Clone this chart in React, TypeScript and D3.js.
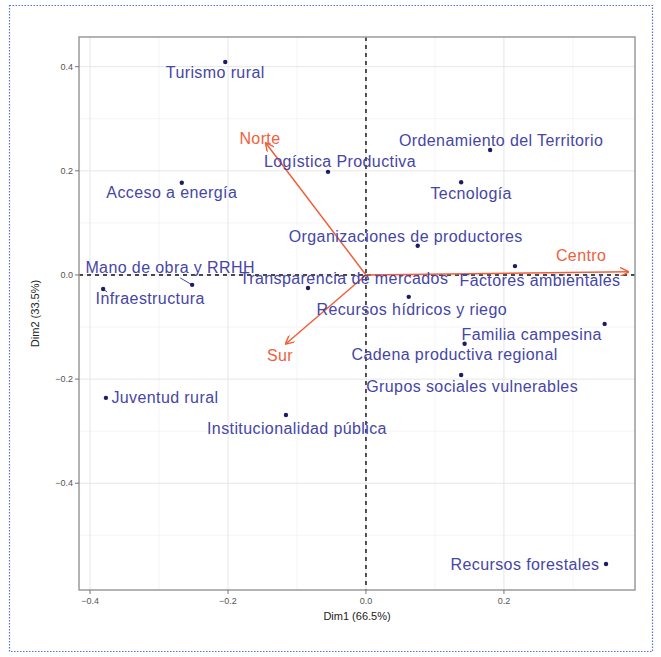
import React from 'react';
import * as d3 from 'd3';

// individuals (variables) on the biplot
const names = [
  'Turismo rural', 'Ordenamiento del Territorio', 'Logística Productiva', 'Acceso a energía',
  'Tecnología', 'Organizaciones de productores', 'Factores ambientales', 'Transparencia de mercados',
  'Mano de obra y RRHH', 'Infraestructura', 'Recursos hídricos y riego', 'Familia campesina',
  'Cadena productiva regional', 'Grupos sociales vulnerables', 'Juventud rural',
  'Institucionalidad pública', 'Recursos forestales'
];
const dim1 = [-0.204, 0.180, -0.055, -0.267, 0.138, 0.075, 0.216, -0.084, -0.252, -0.381, 0.062, 0.346, 0.143, 0.138, -0.377, -0.116, 0.348];
const dim2 = [0.409, 0.240, 0.198, 0.177, 0.178, 0.056, 0.017, -0.025, -0.019, -0.027, -0.042, -0.094, -0.132, -0.192, -0.236, -0.269, -0.555];

// supplementary arrows
const arrowNames = ['Norte', 'Centro', 'Sur'];
const arrowX = [-0.145, 0.380, -0.116];
const arrowY = [0.253, 0.006, -0.132];

const xTicks = [-0.4, -0.2, 0.0, 0.2];
const yTicks = [-0.4, -0.2, 0.0, 0.2, 0.4];
const xMinor = [-0.3, -0.1, 0.1, 0.3];
const yMinor = [-0.5, -0.3, -0.1, 0.1, 0.3];

// label offsets in pixels (repel-like placement)
const labelOffset: [number, number][] = [
  [-10, 10], [11, -10], [12, -10], [-10, 10], [10, 11], [-12, -9], [25, 14], [36, -10],
  [-22, -17], [47, 9], [3, 13], [-73, 10], [-10, 11], [11, 11], [59, 0], [11, 13], [-81, 0]
];
const arrowOffset: [number, number][] = [[-6, -5], [-47, -16], [-6, 12]];

const W = 661, H = 657;
const margin = { left: 79, right: 26, top: 37, bottom: 67 };

export default function App() {
  const x = d3.scaleLinear().domain([-0.416, 0.390]).range([margin.left, W - margin.right]);
  const y = d3.scaleLinear().domain([0.457, -0.605]).range([margin.top, H - margin.bottom]);
  const [x0, x1] = x.range();
  const [y0, y1] = y.range();
  const font = '"Liberation Sans", Arial, Helvetica, sans-serif';
  const txtCol = '#4646a6';
  const ptCol = '#1c1c66';
  const arCol = '#f0603c';
  const fmt = d3.format('.1f');
  const lblSize = 16;
  const lblSpacing = 0.4;

  return (
    <div style={{ position: 'absolute', left: 0, top: 0 }}>
      <svg width={W} height={H} style={{ display: 'block', fontFamily: font }}>
        <defs>
          <marker id="ah" viewBox="0 0 10 10" refX="9" refY="5" markerWidth="6" markerHeight="6" orient="auto-start-reverse">
            <path d="M0,0 L10,5 L0,10" fill="none" stroke={arCol} strokeWidth="1.6" />
          </marker>
        </defs>
        <rect x={0} y={0} width={W} height={H} fill="#fff" />
        <rect x={9.5} y={5.5} width={643} height={646} fill="none" stroke="#5b6fd0" strokeWidth={1.2} strokeDasharray="1.5 1.5" />

        {/* grid */}
        {xMinor.map(v => <line key={'xm' + v} x1={x(v)} x2={x(v)} y1={y0} y2={y1} stroke="#f2f2f2" strokeWidth={0.8} />)}
        {yMinor.map(v => <line key={'ym' + v} x1={x0} x2={x1} y1={y(v)} y2={y(v)} stroke="#f2f2f2" strokeWidth={0.8} />)}
        {xTicks.map(v => <line key={'xg' + v} x1={x(v)} x2={x(v)} y1={y0} y2={y1} stroke="#e6e6e6" strokeWidth={1} />)}
        {yTicks.map(v => <line key={'yg' + v} x1={x0} x2={x1} y1={y(v)} y2={y(v)} stroke="#e6e6e6" strokeWidth={1} />)}

        {/* zero lines */}
        <line x1={x(0)} x2={x(0)} y1={y0} y2={y1} stroke="#111" strokeWidth={1.4} strokeDasharray="4 4" />
        <line x1={x0} x2={x1} y1={y(0)} y2={y(0)} stroke="#111" strokeWidth={1.4} strokeDasharray="4 4" />

        {/* panel border */}
        <rect x={x0} y={y0} width={x1 - x0} height={y1 - y0} fill="none" stroke="#9a9a9a" strokeWidth={1.5} />

        {/* axes ticks */}
        {xTicks.map(v => (
          <g key={'xt' + v}>
            <line x1={x(v)} x2={x(v)} y1={y1} y2={y1 + 4} stroke="#777" />
            <text x={x(v)} y={y1 + 14} textAnchor="middle" fontSize={9} fill="#555">{fmt(v)}</text>
          </g>
        ))}
        {yTicks.map(v => (
          <g key={'yt' + v}>
            <line x1={x0 - 4} x2={x0} y1={y(v)} y2={y(v)} stroke="#777" />
            <text x={x0 - 6} y={y(v)} dy="0.35em" textAnchor="end" fontSize={9} fill="#555">{fmt(v)}</text>
          </g>
        ))}
        <text x={(x0 + x1) / 2} y={y1 + 30} textAnchor="middle" fontSize={11} fill="#222">Dim1 (66.5%)</text>
        <text transform={`translate(${39},${(y0 + y1) / 2}) rotate(-90)`} textAnchor="middle" fontSize={11} fill="#222">Dim2 (33.5%)</text>

        {/* leader lines */}
        <line x1={x(dim1[8]) - 12} y1={y(dim2[8]) - 7} x2={x(dim1[8])} y2={y(dim2[8])} stroke={txtCol} strokeWidth={1} />
        <line x1={x(dim1[9])} y1={y(dim2[9])} x2={x(dim1[9]) + 4} y2={y(dim2[9]) + 3} stroke={txtCol} strokeWidth={1} />

        {/* arrows */}
        {arrowNames.map((n, i) => (
          <g key={n}>
            <line x1={x(0)} y1={y(0)} x2={x(arrowX[i])} y2={y(arrowY[i])} stroke={arCol} strokeWidth={1.5} markerEnd="url(#ah)" />
            <text x={x(arrowX[i]) + arrowOffset[i][0]} y={y(arrowY[i]) + arrowOffset[i][1]} dy="0.35em" textAnchor="middle" fontSize={lblSize} letterSpacing={lblSpacing} fill={arCol}>{n}</text>
          </g>
        ))}

        {/* points and labels */}
        {names.map((n, i) => (
          <g key={n}>
            <circle cx={x(dim1[i])} cy={y(dim2[i])} r={2.2} fill={ptCol} />
            <text x={x(dim1[i]) + labelOffset[i][0]} y={y(dim2[i]) + labelOffset[i][1]} dy="0.35em" textAnchor="middle" fontSize={lblSize} letterSpacing={lblSpacing} fill={txtCol}>{n}</text>
          </g>
        ))}
      </svg>
    </div>
  );
}
